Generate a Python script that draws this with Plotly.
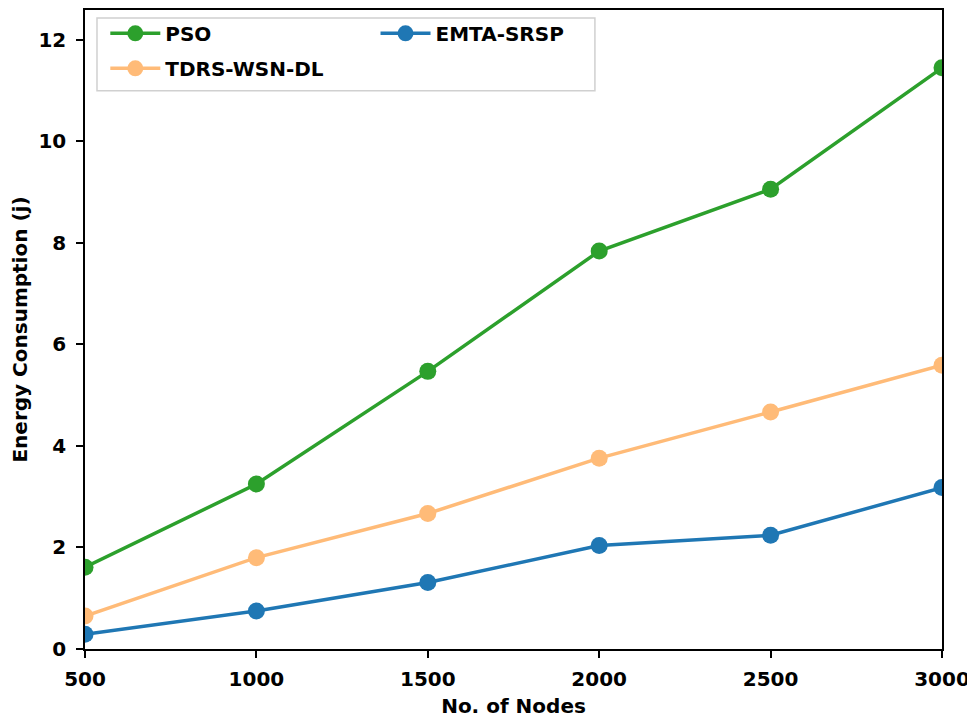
import plotly.graph_objects as go

nodes = [500, 1000, 1500, 2000, 2500, 3000]
pso = [1.61, 3.25, 5.47, 7.84, 9.06, 11.45]
tdrs = [0.65, 1.80, 2.67, 3.76, 4.67, 5.59]
emta = [0.29, 0.75, 1.31, 2.04, 2.24, 3.18]

series = [
    ("PSO", pso, "#2ca02c", "legend"),
    ("TDRS-WSN-DL", tdrs, "#ffbb78", "legend"),
    ("EMTA-SRSP", emta, "#1f77b4", "legend2"),
]

fig = go.Figure()
for name, vals, color, leg in series:
    fig.add_trace(go.Scatter(
        x=nodes, y=vals, name=name, mode="lines+markers",
        line=dict(color=color, width=3.5),
        marker=dict(color=color, size=17),
        legend=leg, legendgroup=name,
    ))

font = "DejaVu Sans"
legfont = dict(family=font, size=20, color="black", weight="bold")
fig.update_layout(
    width=967, height=710,
    margin=dict(l=77, r=33, t=0, b=69),
    paper_bgcolor="white", plot_bgcolor="white",
    font=dict(family=font, size=20, color="black"),
    showlegend=True,
    legend=dict(
        x=0.0237, y=0.994, xanchor="left", yanchor="top",
        bgcolor="rgba(0,0,0,0)", borderwidth=0, tracegroupgap=6,
        itemwidth=50, font=legfont,
    ),
    legend2=dict(
        x=0.339, y=0.994, xanchor="left", yanchor="top",
        bgcolor="rgba(0,0,0,0)", borderwidth=0,
        itemwidth=50, font=legfont,
    ),
    shapes=[dict(
        type="rect", xref="paper", yref="paper",
        x0=0.014, x1=0.595, y0=0.8736, y1=0.9875,
        line=dict(color="#d0d0d0", width=1.5),
        fillcolor="rgba(255,255,255,0.8)", layer="above",
    )],
    xaxis=dict(
        range=[500, 3000], tickvals=nodes,
        showline=True, linecolor="black", linewidth=1.5, mirror=True,
        ticks="outside", ticklen=7, tickcolor="black", tickwidth=1.5,
        showgrid=False, zeroline=False, ticklabelstandoff=4,
        tickfont=dict(family=font, size=20, weight="bold"),
        title=dict(text="No. of Nodes", font=dict(family=font, size=20, weight="bold"), standoff=10),
    ),
    yaxis=dict(
        range=[0, 12.59], tickvals=[0, 2, 4, 6, 8, 10, 12],
        showline=True, linecolor="black", linewidth=1.5, mirror=True,
        ticks="outside", ticklen=7, tickcolor="black", tickwidth=1.5,
        showgrid=False, zeroline=False, ticklabelstandoff=6, automargin=False,
        tickfont=dict(family=font, size=20, weight="bold"),
        title=dict(text="Energy Consumption (j)", font=dict(family=font, size=20, weight="bold"), standoff=15),
    ),
)

fig.write_html("out.html")
